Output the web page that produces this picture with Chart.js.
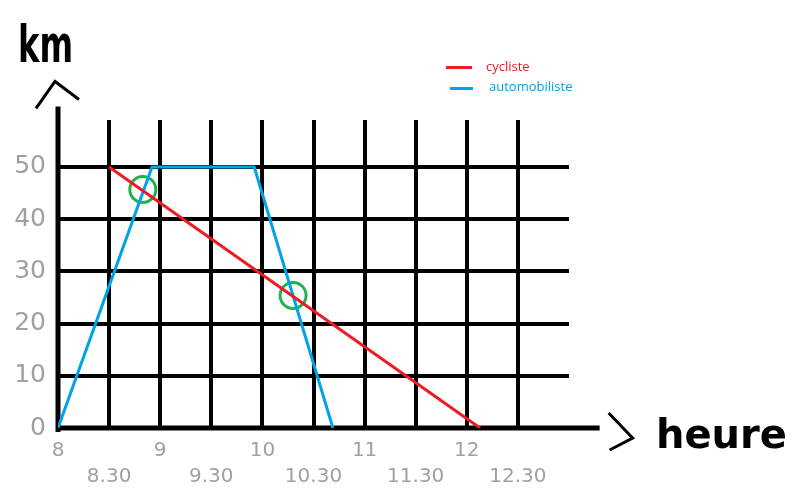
<!DOCTYPE html>
<html lang="fr">
<head>
<meta charset="utf-8">
<title>cycliste / automobiliste</title>
<script src="https://cdn.jsdelivr.net/npm/chart.js@4.4.1/dist/chart.umd.min.js"></script>
<style>
    html, body { margin: 0; padding: 0; background: #fff; overflow: hidden; }
    #wrap { position: relative; width: 802px; height: 502px; }
    .txt { position: absolute; white-space: nowrap; line-height: 1; }
    #titre-y { left: 18px; top: 14px; font: bold 52px 'DejaVu Sans'; color: #000; transform: scaleX(0.62); transform-origin: left top; }
    #titre-x { left: 656px; top: 411px; font: bold 40px 'DejaVu Sans'; color: #000; }
    .leg-line { position: absolute; height: 3px; }
    .leg-txt { font: 13px 'Open Sans'; }
</style>
</head>
<body>
<div id="wrap">
    <canvas id="trajetChart" width="802" height="502"></canvas>
    <div class="txt" id="titre-y">km</div>
    <div class="txt" id="titre-x">heure</div>
    <div id="legende"></div>
</div>
<script>
// donnees
const xTickValues = [8, 8.5, 9, 9.5, 10, 10.5, 11, 11.5, 12, 12.5];
const xTickLabels = ['8', '8.30', '9', '9.30', '10', '10.30', '11', '11.30', '12', '12.30'];
const yTickValues = [0, 10, 20, 30, 40, 50];
const yTickLabels = ['0', '10', '20', '30', '40', '50'];

const seriesNames = ['cycliste', 'automobiliste'];
const cyclisteHeures = [8.5, 12.13];
const cyclisteKm = [50, 0];
const autoHeures = [8, 8.92, 9.92, 10.69];
const autoKm = [0, 50, 50, 0];
const croisementHeures = [8.83, 10.3];
const croisementKm = [45.7, 25.4];

const X_MIN = 8, X_MAX = 13, X_AXIS_END = 13.3;
const Y_MIN = 0, Y_MAX = 59, Y_AXIS_END = 61.6;

const ROUGE = '#ed1c24';
const BLEU = '#00a2e8';
const VERT = '#22b14c';
const GRIS = '#a0a0a0';

const toPoints = (xs, ys) => xs.map((x, i) => ({ x: x, y: ys[i] }));

// axes epais + fleches dessines a la main
const axesFleches = {
    id: 'axesFleches',
    beforeDatasetsDraw(chart) {
        const { ctx, scales: { x, y } } = chart;
        const x0 = x.getPixelForValue(X_MIN);
        const y0 = y.getPixelForValue(Y_MIN);
        const yTop = y.getPixelForValue(Y_AXIS_END);
        const xEnd = x.getPixelForValue(X_AXIS_END);
        ctx.save();
        ctx.strokeStyle = '#000';
        ctx.lineWidth = 5;
        ctx.beginPath();
        ctx.moveTo(x0, y0 + 4);
        ctx.lineTo(x0, yTop);
        ctx.stroke();
        ctx.beginPath();
        ctx.moveTo(x0 - 2, y0);
        ctx.lineTo(xEnd, y0);
        ctx.stroke();
        // fleche verticale
        ctx.lineWidth = 3;
        ctx.beginPath();
        ctx.moveTo(x0 - 22, yTop + 2);
        ctx.lineTo(x0 - 3, yTop - 25);
        ctx.lineTo(x0 + 21, yTop - 7);
        ctx.stroke();
        // fleche horizontale
        ctx.beginPath();
        ctx.moveTo(xEnd + 9, y0 - 15);
        ctx.lineTo(xEnd + 33, y0 + 10);
        ctx.lineTo(xEnd + 10, y0 + 22);
        ctx.stroke();
        ctx.restore();
    }
};

const chart = new Chart(document.getElementById('trajetChart'), {
    type: 'scatter',
    data: {
        datasets: [
            {
                label: seriesNames[0],
                data: toPoints(cyclisteHeures, cyclisteKm),
                showLine: true,
                borderColor: ROUGE,
                borderWidth: 3,
                pointRadius: 0
            },
            {
                label: seriesNames[1],
                data: toPoints(autoHeures, autoKm),
                showLine: true,
                borderColor: BLEU,
                borderWidth: 3,
                pointRadius: 0
            },
            {
                label: 'croisement',
                data: toPoints(croisementHeures, croisementKm),
                showLine: false,
                pointRadius: 13,
                pointBorderWidth: 3,
                pointBorderColor: VERT,
                pointBackgroundColor: 'rgba(0,0,0,0)'
            }
        ]
    },
    options: {
        responsive: false,
        animation: false,
        layout: { padding: { top: 120, right: 233, bottom: 0, left: 0 } },
        plugins: {
            legend: { display: false },
            tooltip: { enabled: false }
        },
        scales: {
            x: {
                type: 'linear',
                min: X_MIN,
                max: X_MAX,
                afterBuildTicks: s => { s.ticks = xTickValues.map(v => ({ value: v })); },
                afterFit: s => { s.height = 74; },
                border: { display: false },
                grid: { color: '#000', lineWidth: 4, drawTicks: false },
                ticks: {
                    padding: 10,
                    maxRotation: 0,
                    autoSkip: false,
                    color: GRIS,
                    font: { family: 'DejaVu Sans', size: 20, lineHeight: 1.3 },
                    callback: (v) => {
                        const i = xTickValues.indexOf(v);
                        if (i < 0) return '';
                        return v % 1 === 0 ? xTickLabels[i] : ['', xTickLabels[i]];
                    }
                }
            },
            y: {
                min: Y_MIN,
                max: Y_MAX,
                afterBuildTicks: s => { s.ticks = yTickValues.map(v => ({ value: v })); },
                afterFit: s => { s.width = 58; },
                border: { display: false },
                grid: { color: '#000', lineWidth: 4, drawTicks: false },
                ticks: {
                    padding: 12,
                    color: GRIS,
                    font: { family: 'DejaVu Sans', size: 25 },
                    callback: (v) => {
                        const i = yTickValues.indexOf(v);
                        return i < 0 ? '' : yTickLabels[i];
                    }
                }
            }
        }
    },
    plugins: [axesFleches]
});

// legende en haut a droite
const legende = document.getElementById('legende');
const legPos = [
    { line: [446, 66, 26], txt: [486, 57] },
    { line: [450, 87, 23], txt: [489, 77] }
];
chart.data.datasets.slice(0, 2).forEach((ds, i) => {
    const p = legPos[i];
    const l = document.createElement('div');
    l.className = 'leg-line';
    l.style.left = p.line[0] + 'px';
    l.style.top = p.line[1] + 'px';
    l.style.width = p.line[2] + 'px';
    l.style.background = ds.borderColor;
    legende.appendChild(l);
    const t = document.createElement('div');
    t.className = 'txt leg-txt';
    t.style.left = p.txt[0] + 'px';
    t.style.top = p.txt[1] + 'px';
    t.style.color = ds.borderColor;
    t.textContent = ds.label;
    legende.appendChild(t);
});
</script>
</body>
</html>
